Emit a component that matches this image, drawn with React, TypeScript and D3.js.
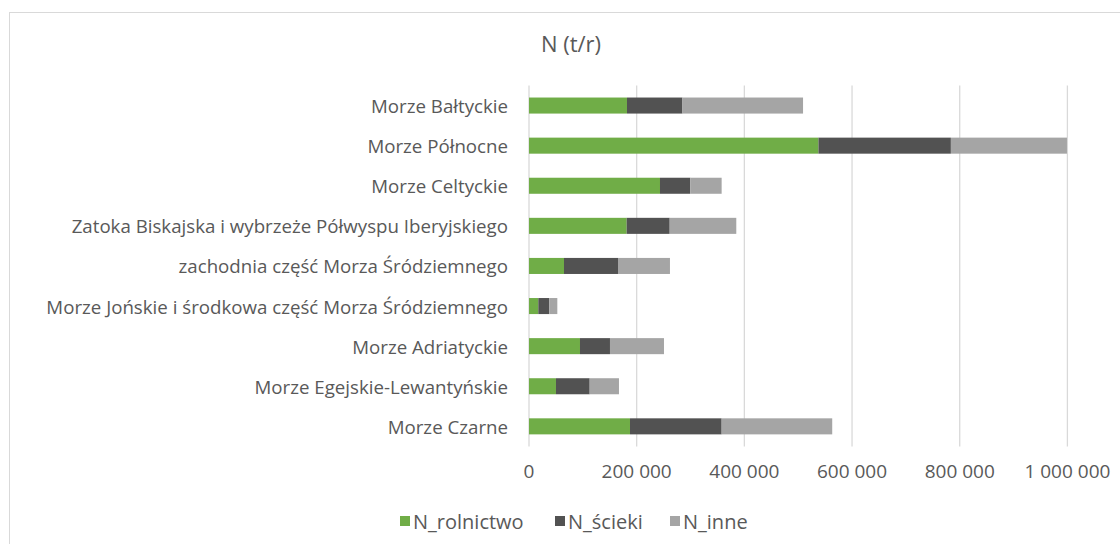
import React from 'react';
import * as d3 from 'd3';

const categories = [
  'Morze Bałtyckie',
  'Morze Północne',
  'Morze Celtyckie',
  'Zatoka Biskajska i wybrzeże Półwyspu Iberyjskiego',
  'zachodnia część Morza Śródziemnego',
  'Morze Jońskie i środkowa część Morza Śródziemnego',
  'Morze Adriatyckie',
  'Morze Egejskie-Lewantyńskie',
  'Morze Czarne',
];

const rolnictwo = [182000, 537600, 243300, 181400, 65000, 17300, 94700, 50100, 187600];
const scieki = [103000, 246000, 56200, 79900, 100300, 20400, 55700, 62600, 170200];
const inne = [224000, 215600, 58300, 123700, 96500, 14900, 100300, 54400, 205400];

const seriesNames = ['N_rolnictwo', 'N_ścieki', 'N_inne'];
const seriesColors = ['#70AD47', '#525252', '#A5A5A5'];
const xTicks = [0, 200000, 400000, 600000, 800000, 1000000];

const W = 1120;
const H = 544;
const font = '"Open Sans", sans-serif';
const textColor = '#595959';

const rows = categories.map((c, i) => ({
  name: c,
  N_rolnictwo: rolnictwo[i],
  N_ścieki: scieki[i],
  N_inne: inne[i],
}));

const fmt = (v: number) => d3.format(',')(v).replace(/,/g, ' ');

export default function App() {
  const x = d3.scaleLinear().domain([0, 1000000]).range([529, 1067.4]);
  const y = d3
    .scaleBand()
    .domain(categories)
    .range([85.5, 446.4])
    .paddingInner(0.6)
    .paddingOuter(0.3);

  const stacked = d3.stack<any>().keys(seriesNames)(rows);

  // legend positions
  const legendX = [400, 555, 670];

  return (
    <svg
      width={W}
      height={H}
      style={{ position: 'absolute', left: 0, top: 0, background: '#fff' }}
      fontFamily={font}
    >
      <rect x={9.5} y={12.5} width={W} height={H} fill="#fff" stroke="#d9d9d9" />

      <text x={571} y={46} textAnchor="middle" dominantBaseline="middle" fontSize={22} fill={textColor}>
        N (t/r)
      </text>

      {/* gridlines */}
      {xTicks.map((t) => (
        <line
          key={t}
          x1={x(t)}
          x2={x(t)}
          y1={85.5}
          y2={446.4}
          stroke="#d9d9d9"
          strokeWidth={1.3}
        />
      ))}

      {/* bars */}
      {stacked.map((s, si) => (
        <g key={s.key} fill={seriesColors[si]}>
          {s.map((d, i) => (
            <rect
              key={i}
              x={x(d[0])}
              y={y(categories[i])}
              width={x(d[1]) - x(d[0])}
              height={y.bandwidth()}
            />
          ))}
        </g>
      ))}

      {/* category labels */}
      {categories.map((c) => (
        <text
          key={c}
          x={508}
          y={(y(c) as number) + y.bandwidth() / 2}
          textAnchor="end"
          dominantBaseline="central"
          fontSize={18.7}
          fill={textColor}
        >
          {c}
        </text>
      ))}

      {/* x axis labels */}
      {xTicks.map((t) => (
        <text
          key={t}
          x={x(t)}
          y={471}
          textAnchor="middle"
          dominantBaseline="central"
          fontSize={19}
          fill={textColor}
        >
          {fmt(t)}
        </text>
      ))}

      {/* legend */}
      {seriesNames.map((n, i) => (
        <g key={n} transform={`translate(${legendX[i]}, 521)`}>
          <rect x={0} y={-5} width={10} height={10} fill={seriesColors[i]} />
          <text x={13} y={0} dominantBaseline="central" fontSize={20} fill={textColor}>
            {n}
          </text>
        </g>
      ))}
    </svg>
  );
}
